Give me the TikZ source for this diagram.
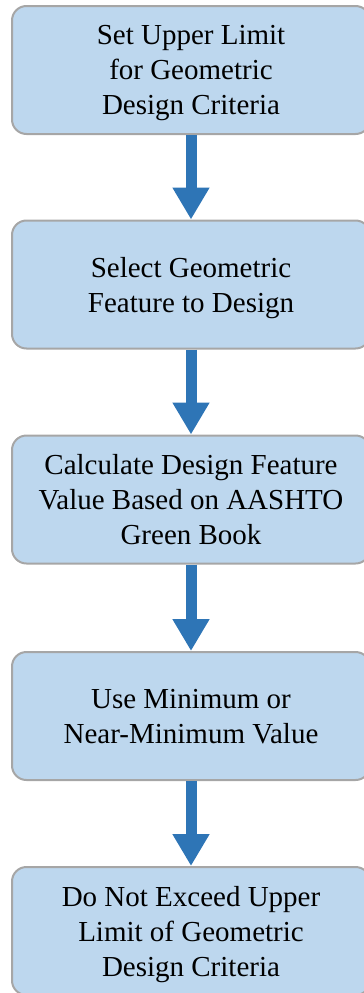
\documentclass[tikz,border=0pt]{standalone}
\usepackage{fontspec}
\setmainfont{Liberation Serif}
\usepackage{tikz}
\usetikzlibrary{arrows.meta}
\usepackage{xcolor}
\definecolor{boxfill}{HTML}{BDD7EE}
\definecolor{boxline}{HTML}{A6A6A6}
\definecolor{flowblue}{HTML}{2E75B6}

\begin{document}
\begin{tikzpicture}[x=1pt,y=1pt,
        stagebox/.style={draw=boxline,line width=2pt,fill=boxfill,rounded corners=14.5pt,
            minimum width=358pt,minimum height=128pt,inner sep=0pt,align=center,
            text depth=0pt,font=\fontsize{29}{35}\selectfont},
        flow/.style={draw=flowblue,line width=11pt,-{Triangle[width=35pt,length=32pt]},flowblue}]
    % --- page frame: 364 x 993, y measured downward from the top ---
    \useasboundingbox (0,0) rectangle (364,-993);
    % --- the five stages, one below the other ---
    \node[stagebox] (upper) at (191,-70) {Set Upper Limit\\for Geometric\\Design Criteria};
    \node[stagebox] (select) at (191,-284.5) {Select Geometric\\Feature to Design};
    \node[stagebox] (calc) at (191,-499.5) {Calculate Design Feature\\Value Based on AASHTO\\Green Book};
    \node[stagebox] (minval) at (191,-716) {Use Minimum or\\Near-Minimum Value};
    \node[stagebox] (exceed) at (191,-931) {Do Not Exceed Upper\\Limit of Geometric\\Design Criteria};
    % --- block arrows between stages ---
    \draw[flow] (upper) -- (select);
    \draw[flow] (select) -- (calc);
    \draw[flow] (calc) -- (minval);
    \draw[flow] (minval) -- (exceed);
\end{tikzpicture}
\end{document}
